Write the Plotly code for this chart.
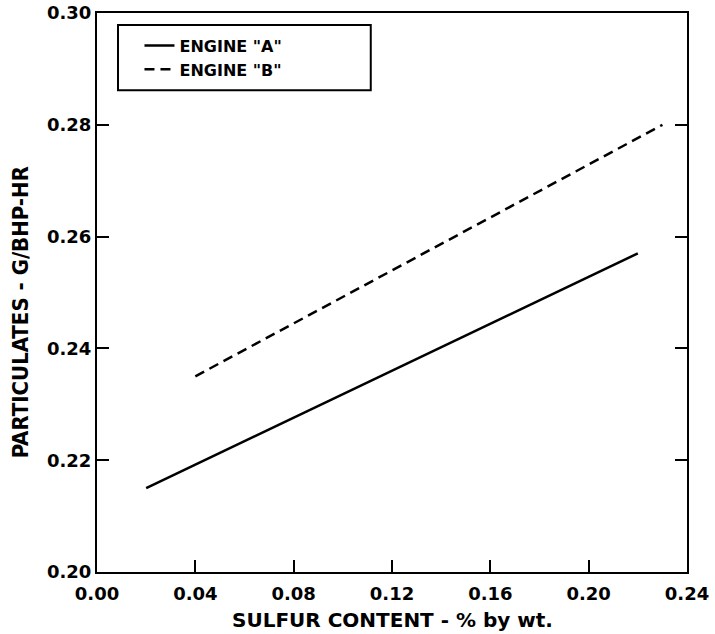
import plotly.graph_objects as go

# Data
engine_a_sulfur = [0.02, 0.22]
engine_a_particulates = [0.215, 0.257]
engine_b_sulfur = [0.04, 0.23]
engine_b_particulates = [0.235, 0.280]

x_ticks = [0.00, 0.04, 0.08, 0.12, 0.16, 0.20, 0.24]
x_tick_labels = ["0.00", "0.04", "0.08", "0.12", "0.16", "0.20", "0.24"]
y_ticks = [0.20, 0.22, 0.24, 0.26, 0.28, 0.30]
y_tick_labels = ["0.20", "0.22", "0.24", "0.26", "0.28", "0.30"]

series_names = ['ENGINE "A"', 'ENGINE "B"']

bold = dict(family="DejaVu Sans", weight="bold", color="black")

fig = go.Figure()
fig.add_trace(go.Scatter(
    x=engine_a_sulfur, y=engine_a_particulates, mode="lines",
    name=series_names[0], line=dict(color="black", width=2.5)))
fig.add_trace(go.Scatter(
    x=engine_b_sulfur, y=engine_b_particulates, mode="lines",
    name=series_names[1], line=dict(color="black", width=2.5, dash="10px,6px")))

axis_common = dict(
    showline=True, linecolor="black", linewidth=2,
    ticks="inside", ticklen=12, tickwidth=2, tickcolor="black",
    showgrid=False, zeroline=False, automargin=False,
    tickfont=dict(size=18, **bold),
)

fig.update_xaxes(range=[0, 0.24], tickvals=x_ticks, ticktext=x_tick_labels,
                 mirror=True, ticklabelstandoff=4, **axis_common)
fig.update_yaxes(range=[0.20, 0.30], tickvals=y_ticks, ticktext=y_tick_labels,
                 mirror="ticks", **axis_common)

fig.update_layout(
    width=715, height=634,
    margin=dict(l=97, r=28, t=13, b=62, autoexpand=False),
    plot_bgcolor="white", paper_bgcolor="white",
    showlegend=True,
    legend=dict(
        x=0.072, y=0.972, xanchor="left", yanchor="top",
        bgcolor="rgba(0,0,0,0)", borderwidth=0,
        font=dict(size=16, **bold),
        tracegroupgap=0,
    ),
    shapes=[dict(type="rect", xref="paper", yref="paper",
                 x0=0.0356, x1=0.464, y0=0.862, y1=0.9785,
                 line=dict(color="black", width=2))],
    annotations=[
        dict(text="SULFUR CONTENT - % by wt.", xref="paper", yref="paper",
             x=0.5, y=-0.086, xanchor="center", yanchor="middle",
             showarrow=False, font=dict(size=20, **bold)),
        dict(text="PARTICULATES - G/BHP-HR", xref="paper", yref="paper",
             x=-0.13, y=0.465, xanchor="center", yanchor="middle",
             textangle=-90, showarrow=False,
             font=dict(size=22, family="Liberation Sans Narrow, DejaVu Sans Condensed, Arial Narrow",
                       weight="bold", color="black")),
    ],
)

fig.write_html("out.html", config={"displayModeBar": False},
               post_script="document.body.style.margin='0';document.body.style.overflow='hidden';")
